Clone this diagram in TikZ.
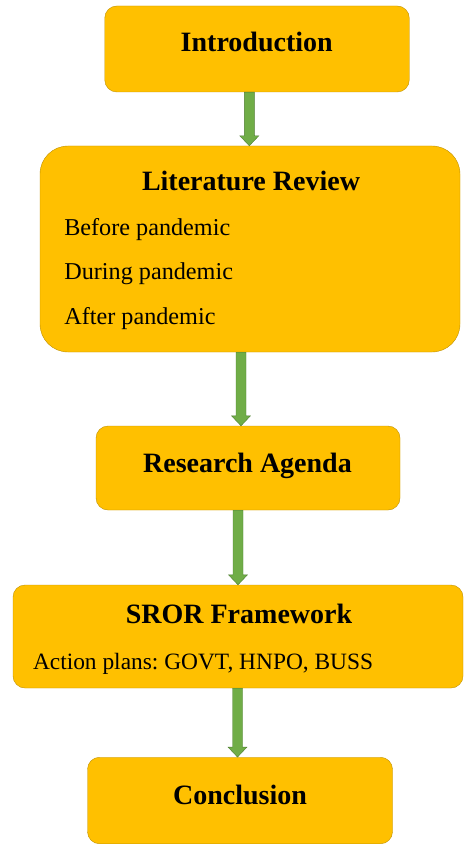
\documentclass[tikz,border=0pt]{standalone}
\usepackage{fontspec}
\setmainfont{Liberation Serif}
\usepackage{tikz}
\usetikzlibrary{calc}

\definecolor{boxgold}{HTML}{FFC000}
\definecolor{boxedge}{HTML}{BF9000}
\definecolor{arrowgreen}{HTML}{70AD47}
\definecolor{arrowedge}{HTML}{507E32}

% block arrow from the bottom of #2 to the top of #3, shifted sideways by #1
\newcommand{\flowarrow}[3][0pt]{%
    \path[flow] let \p1 = ([xshift=#1]#2.south), \p2 = (#3.north) in
        (\x1-5pt,\y1) -- (\x1+5pt,\y1) -- (\x1+5pt,\y2+10pt) -- (\x1+9.5pt,\y2+10pt)
        -- (\x1,\y2) -- (\x1-9.5pt,\y2+10pt) -- (\x1-5pt,\y2+10pt) -- cycle;}

\begin{document}
\frenchspacing
\begin{tikzpicture}[
            x = 1pt, y = -1pt, % pixel units, y grows downward
            semithick % line style
        ]

        \tikzstyle{phase}=[
            draw = boxedge,
            fill = boxgold,
            thin,
            rounded corners = 12pt,
            inner sep = 0pt
        ]
        \tikzstyle{heading}=[font = \fontsize{28}{30}\selectfont\bfseries, inner sep = 0pt, anchor = base]
        \tikzstyle{item}=[font = \fontsize{24.2}{28}\selectfont, inner sep = 0pt, anchor = base west]
        \tikzstyle{flow}=[draw = arrowedge, fill = arrowgreen, thin]

        \useasboundingbox (0,0) rectangle (464,845);

	% INTRODUCTION
        \node[phase, minimum width = 304.5, minimum height = 86] (Intro) at (257,49) {};
        \node[heading] (IntroT) at (256.7,52) {Introduction};

	% LITERATURE REVIEW
        \node[phase, rounded corners = 28pt, minimum width = 420, minimum height = 206] (Lit) at (250,249) {};
        \node[heading] (LitT) at (251,190) {Literature Review};
        \node[item] (Before) at (64,235) {Before pandemic};
        \node[item] (During) at (64,279.3) {During pandemic};
        \node[item] (After) at (64,324.3) {After pandemic};

	% RESEARCH AGENDA
        \node[phase, minimum width = 304, minimum height = 84] (Agenda) at (248,468) {};
        \node[heading] (AgendaT) at (247.5,472) {Research Agenda};

	% SROR FRAMEWORK
        \node[phase, minimum width = 450, minimum height = 103] (Sror) at (238,636.5) {};
        \node[heading] (SrorT) at (239,623.3) {SROR Framework};
        \node[item, font = \fontsize{23.4}{28}\selectfont] (Plans) at (32.7,669) {Action plans: GOVT, HNPO, BUSS};

	% CONCLUSION
        \node[phase, minimum width = 305, minimum height = 86.5] (Concl) at (240,800.5) {};
        \node[heading] (ConclT) at (240,804) {Conclusion};

        \flowarrow[-7.7pt]{Intro}{Lit}
        \flowarrow[-9pt]{Lit}{Agenda}
        \flowarrow[-10pt]{Agenda}{Sror}
        \flowarrow[-0.5pt]{Sror}{Concl}

  \end{tikzpicture}
\end{document}
